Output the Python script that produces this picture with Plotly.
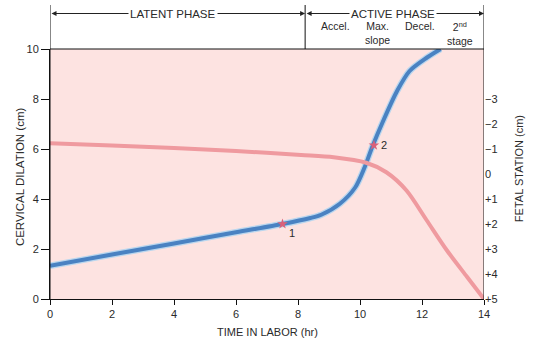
import plotly.graph_objects as go

# Cervical dilation (cm) against time in labor (hr)
dil_hours = [0, 2, 4, 6, 7.5, 8.4, 8.75, 9.35, 9.85, 10.15, 10.4, 10.75, 11.2, 11.6, 12.15, 12.6]
dil_cm = [1.33, 1.78, 2.22, 2.67, 3.0, 3.24, 3.37, 3.81, 4.47, 5.27, 6.1, 7.13, 8.33, 9.12, 9.65, 10.0]

# Fetal station (cm) against time in labor (hr)
sta_hours = [0, 2, 4, 6, 8.1, 9.15, 10.2, 10.85, 11.5, 12.15, 12.8, 13.45, 14]
sta_cm = [-1.23, -1.14, -1.04, -0.92, -0.76, -0.67, -0.45, -0.07, 0.66, 1.85, 3.05, 4.11, 5.0]

# Numbered reference points on the dilation curve
pt_hours = [7.5, 10.45]
pt_cm = [3.0, 6.15]
pt_labels = ["1", "2"]

x_ticks = [0, 2, 4, 6, 8, 10, 12, 14]
y_ticks = [0, 2, 4, 6, 8, 10]
station_ticks = [-3, -2, -1, 0, 1, 2, 3, 4, 5]
station_text = ["\u22123", "\u22122", "\u22121", "0", "+1", "+2", "+3", "+4", "+5"]

phase_split = 8.23  # end of the latent phase (hr)

FONT = "Arial, Liberation Sans, Helvetica, sans-serif"
TXT = "#2a2a2a"

fig = go.Figure()

fig.add_trace(go.Scatter(
    x=sta_hours, y=sta_cm, yaxis="y2", mode="lines",
    line=dict(color="#EF9A9F", width=4, shape="spline", smoothing=0.8),
    hoverinfo="skip", showlegend=False))

fig.add_trace(go.Scatter(
    x=dil_hours, y=dil_cm, mode="lines",
    line=dict(color="#B9D6EE", width=6.5, shape="spline", smoothing=0.8),
    hoverinfo="skip", showlegend=False))
fig.add_trace(go.Scatter(
    x=dil_hours, y=dil_cm, mode="lines",
    line=dict(color="#4A82C2", width=4, shape="spline", smoothing=0.8),
    showlegend=False))

fig.add_trace(go.Scatter(
    x=pt_hours, y=pt_cm, mode="markers",
    marker=dict(symbol="star", size=8, color="#D9607A"),
    showlegend=False))

annotations = []
for hx, hy, lab, dx, dy in zip(pt_hours, pt_cm, pt_labels, [9, 10], [-9, 0]):
    annotations.append(dict(x=hx, y=hy, text=lab, showarrow=False, xshift=dx, yshift=dy,
                            font=dict(family=FONT, size=11, color=TXT)))

# Axis titles
annotations += [
    dict(x=-0.07, y=0.49, xref="paper", yref="paper", text="CERVICAL DILATION (cm)",
         textangle=-90, showarrow=False, xanchor="center", yanchor="middle",
         font=dict(family=FONT, size=11.5, color=TXT)),
    dict(x=1.081, y=0.52, xref="paper", yref="paper", text="FETAL STATION (cm)",
         textangle=-90, showarrow=False, xanchor="center", yanchor="middle",
         font=dict(family=FONT, size=11, color=TXT)),
    dict(x=0.5, y=-0.132, xref="paper", yref="paper", text="TIME IN LABOR (hr)",
         showarrow=False, xanchor="center", yanchor="middle",
         font=dict(family=FONT, size=11, color=TXT)),
]

# Phase arrows in the header band
ARROW_Y = 1.142
for x0, x1 in [(0, phase_split), (phase_split, 14)]:
    annotations.append(dict(x=x1, y=ARROW_Y, xref="x", yref="paper",
                            ax=x0, ay=0, axref="x", ayref="pixel",
                            showarrow=True, arrowside="end+start", arrowhead=2,
                            arrowsize=1, arrowwidth=1, arrowcolor="#222", text=""))

annotations += [
    dict(x=3.98, y=ARROW_Y, xref="x", yref="paper", yanchor="middle", text="LATENT PHASE",
         showarrow=False, bgcolor="white", borderpad=1,
         font=dict(family=FONT, size=11.5, color=TXT)),
    dict(x=11.08, y=ARROW_Y, xref="x", yref="paper", yanchor="middle", text="ACTIVE PHASE",
         showarrow=False, bgcolor="white", borderpad=1,
         font=dict(family=FONT, size=11.5, color=TXT)),
]
sub_labels = [(9.2, "Accel."), (10.58, "Max.<br>slope"), (11.95, "Decel."), (13.22, "2<sup>nd</sup><br>stage")]
for sx, st in sub_labels:
    annotations.append(dict(x=sx, y=1.125, xref="x", yref="paper", yanchor="top", text=st,
                            showarrow=False, align="center",
                            font=dict(family=FONT, size=10.5, color=TXT)))

HEAD_TOP = 1.176
shapes = [
    dict(type="line", xref="x", yref="paper", x0=0, x1=0, y0=0, y1=HEAD_TOP,
         line=dict(color="#111", width=1)),
    dict(type="line", xref="x", yref="paper", x0=14, x1=14, y0=0, y1=HEAD_TOP,
         line=dict(color="#111", width=1)),
    dict(type="line", xref="x", yref="paper", x0=phase_split, x1=phase_split, y0=1, y1=HEAD_TOP,
         line=dict(color="#111", width=1)),
    dict(type="line", xref="x", yref="paper", x0=0, x1=14, y0=1, y1=1,
         line=dict(color="#111", width=1)),
]

fig.update_layout(
    width=544, height=344,
    margin=dict(l=50, r=60, t=49, b=45),
    paper_bgcolor="white", plot_bgcolor="#FDE3E1",
    font=dict(family=FONT, size=11, color=TXT),
    xaxis=dict(range=[0, 14], tickvals=x_ticks, showgrid=False, zeroline=False,
               showline=True, linecolor="#111", linewidth=1, automargin=False,
               ticks="outside", ticklen=5, tickcolor="#111"),
    yaxis=dict(range=[0, 10], tickvals=y_ticks, showgrid=False, zeroline=False,
               showline=True, linecolor="#111", linewidth=1, automargin=False,
               ticks="outside", ticklen=8, tickcolor="#111"),
    yaxis2=dict(overlaying="y", side="right", range=[5, -5], tickvals=station_ticks,
                ticktext=station_text, showgrid=False, zeroline=False, showline=False,
                ticks="", automargin=False),
    annotations=annotations,
    shapes=shapes,
)

fig.write_html("out.html")
